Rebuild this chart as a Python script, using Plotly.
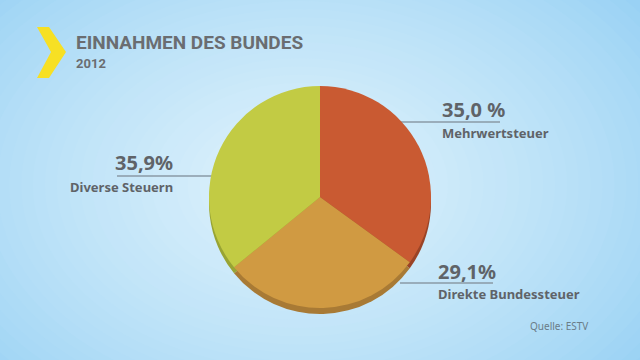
import plotly.graph_objects as go

# ---- data ----
categories = ["Mehrwertsteuer", "Direkte Bundessteuer", "Diverse Steuern"]
values = [35.0, 29.1, 35.9]
value_labels = ["35,0 %", "29,1%", "35,9%"]
title = "EINNAHMEN DES BUNDES"
subtitle = "2012"
source = "Quelle: ESTV"

colors = ["#c95a32", "#d09a42", "#c2cb44"]
shadow_colors = ["#9a4326", "#a87a35", "#98a434"]

W, H = 640, 360


def px(x):
    return x / W


def py(y):
    return 1 - y / H


fig = go.Figure()

# pie geometry (pixels)
cx, cy, r = 320, 197, 111
shadow_dy = 6

fig.add_trace(go.Pie(
    values=values, labels=categories, sort=False, direction="clockwise", rotation=0,
    marker=dict(colors=shadow_colors, line=dict(width=0)),
    textinfo="none", hoverinfo="skip", showlegend=False,
    domain=dict(x=[px(cx - r), px(cx + r)], y=[py(cy + r + shadow_dy), py(cy - r + shadow_dy)]),
))
fig.add_trace(go.Pie(
    values=values, labels=categories, sort=False, direction="clockwise", rotation=0,
    marker=dict(colors=colors, line=dict(width=0)),
    textinfo="none", hoverinfo="label+percent", showlegend=False,
    domain=dict(x=[px(cx - r), px(cx + r)], y=[py(cy + r), py(cy - r)]),
))

shapes = []
# background radial gradient
edge = (0x84, 0xc8, 0xf2)
center = (0xde, 0xf2, 0xfc)
shapes.append(dict(type="rect", xref="paper", yref="paper", x0=0, x1=1, y0=0, y1=1,
                   fillcolor="rgb(%d,%d,%d)" % edge, line=dict(width=0), layer="below"))
steps = 40
gcx, gcy = 300, 185
for i in range(steps):
    t = i / (steps - 1)
    ry = 340 * (1 - t) + 20 * t
    rx = ry * 1.45
    tt = t ** 0.7
    c = tuple(int(edge[k] * (1 - tt) + center[k] * tt) for k in range(3))
    shapes.append(dict(type="circle", xref="paper", yref="paper",
                       x0=px(gcx - rx), x1=px(gcx + rx), y0=py(gcy + ry), y1=py(gcy - ry),
                       fillcolor="rgb(%d,%d,%d)" % c, line=dict(width=0), layer="below"))

# yellow chevron
chev = [(37, 27), (49, 27), (66, 52), (49, 78), (37, 78), (51, 52)]
path = "M " + " L ".join("%f,%f" % (px(x), py(y)) for x, y in chev) + " Z"
shapes.append(dict(type="path", xref="paper", yref="paper", path=path,
                   fillcolor="#f7e024", line=dict(width=0)))

# leader lines
line_color = "#8a9aa6"
leaders = [(400, 500, 122), (400, 493, 283), (117, 213, 176)]
for x0, x1, y in leaders:
    shapes.append(dict(type="line", xref="paper", yref="paper",
                       x0=px(x0), x1=px(x1), y0=py(y), y1=py(y),
                       line=dict(color=line_color, width=1.5), layer="below"))

fig.update_layout(shapes=shapes)

font_family = "Noto Sans"
title_family = "Roboto"
txt = "#5f6368"
ann = []
ann.append(dict(text="<b>%s</b>" % title, x=px(74), y=py(42), xanchor="left", yanchor="middle",
                font=dict(family=title_family, size=19, color="#6a6d71")))
ann.append(dict(text="<b>%s</b>" % subtitle, x=px(74), y=py(63), xanchor="left", yanchor="middle",
                font=dict(family=title_family, size=13, color="#6a6d71")))
# value labels: (value x, value y, name x, name y, anchor)
label_pos = [(440, 109, 440, 133, "left"), (436, 271, 436, 294, "left"), (175, 163, 175, 187, "right")]
for i, (vx, vy, nx, ny, anc) in enumerate(label_pos):
    ann.append(dict(text="<b>%s</b>" % value_labels[i], x=px(vx), y=py(vy), xanchor=anc, yanchor="middle",
                    font=dict(family=font_family, size=20, color=txt)))
    ann.append(dict(text="<b>%s</b>" % categories[i], x=px(nx), y=py(ny), xanchor=anc, yanchor="middle",
                    font=dict(family=font_family, size=13, color=txt)))
ann.append(dict(text=source, x=px(590), y=py(326), xanchor="right", yanchor="middle",
                font=dict(family=font_family, size=10, color="#6a7c88")))
for a in ann:
    a.update(xref="paper", yref="paper", showarrow=False)
fig.update_layout(annotations=ann)

fig.update_layout(width=W, height=H, margin=dict(l=0, r=0, t=0, b=0),
                  paper_bgcolor="#84c8f2", plot_bgcolor="rgba(0,0,0,0)")
fig.write_html("out.html", config={"displayModeBar": False},
               post_script="document.body.style.margin='0';document.body.style.overflow='hidden';")
